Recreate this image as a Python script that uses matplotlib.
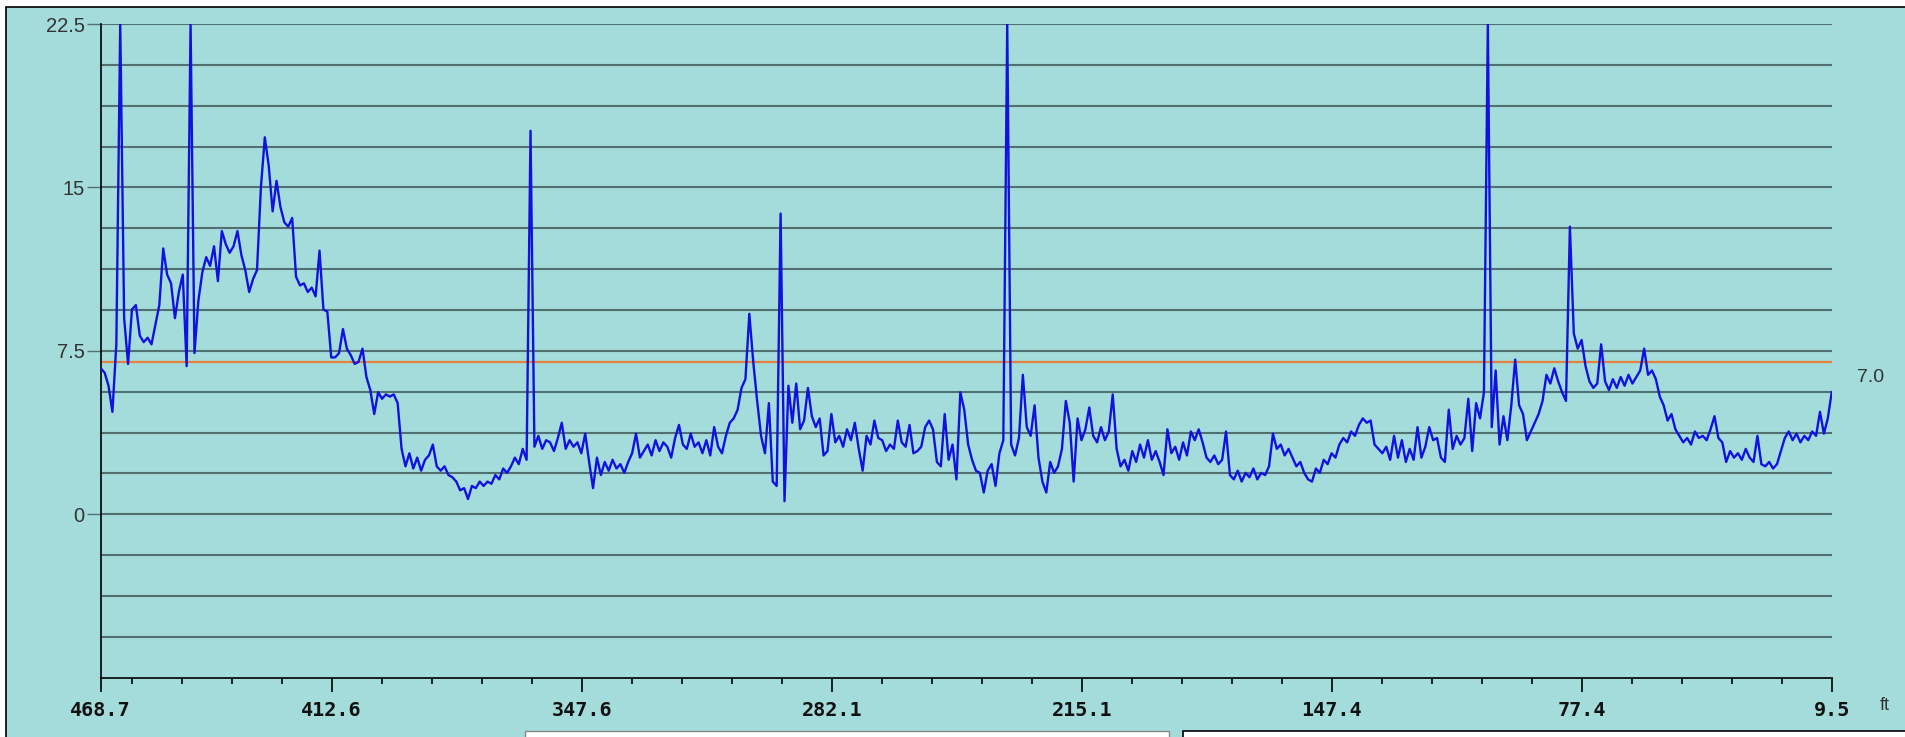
import numpy as np
import matplotlib
matplotlib.use("Agg")
import matplotlib.pyplot as plt
from matplotlib.patches import Rectangle

# ---------------- data ----------------
# distance labels along the bottom axis (ft), left to right
dist_labels = ["468.7", "412.6", "347.6", "282.1", "215.1", "147.4", "77.4", "9.5"]
value_ticks = [0, 7.5, 15, 22.5]
value_labels = ["0", "7.5", "15", "22.5"]
limit_value = 7.0
limit_label = "7.0"
unit_label = "ft"

# trace readings, evenly spaced along the run from 468.7 ft (left) to 9.5 ft (right)
signal = [
    6.7, 6.5, 5.9, 4.7, 7.8, 22.5, 9.0, 6.9, 9.4, 9.6,
    8.2, 7.9, 8.1, 7.8, 8.7, 9.6, 12.2, 11.0, 10.6, 9.0,
    10.2, 11.0, 6.8, 22.5, 7.4, 9.8, 11.1, 11.8, 11.4, 12.3,
    10.7, 13.0, 12.4, 12.0, 12.3, 13.0, 11.9, 11.2, 10.2, 10.8,
    11.2, 15.0, 17.3, 16.0, 13.9, 15.3, 14.1, 13.4, 13.2, 13.6,
    10.9, 10.5, 10.6, 10.2, 10.4, 10.0, 12.1, 9.4, 9.3, 7.2,
    7.2, 7.4, 8.5, 7.6, 7.3, 6.9, 7.0, 7.6, 6.3, 5.7,
    4.6, 5.6, 5.3, 5.5, 5.4, 5.5, 5.1, 3.0, 2.2, 2.8,
    2.1, 2.6, 2.0, 2.5, 2.7, 3.2, 2.2, 2.0, 2.2, 1.8,
    1.7, 1.5, 1.1, 1.2, 0.7, 1.3, 1.2, 1.5, 1.3, 1.5,
    1.4, 1.8, 1.6, 2.1, 1.9, 2.2, 2.6, 2.3, 3.0, 2.5,
    17.6, 3.1, 3.6, 3.0, 3.4, 3.3, 2.9, 3.5, 4.2, 3.0,
    3.4, 3.1, 3.3, 2.8, 3.7, 2.4, 1.2, 2.6, 1.8, 2.4,
    2.0, 2.5, 2.1, 2.3, 1.9, 2.4, 2.8, 3.7, 2.6, 2.9,
    3.2, 2.7, 3.4, 2.9, 3.3, 3.1, 2.6, 3.5, 4.1, 3.2,
    3.0, 3.7, 3.1, 3.3, 2.8, 3.4, 2.7, 4.0, 3.1, 2.8,
    3.6, 4.2, 4.4, 4.8, 5.8, 6.2, 9.2, 7.0, 5.2, 3.6,
    2.8, 5.1, 1.5, 1.3, 13.8, 0.6, 5.9, 4.2, 6.0, 3.9,
    4.3, 5.8, 4.5, 4.0, 4.4, 2.7, 2.9, 4.6, 3.3, 3.6,
    3.1, 3.9, 3.4, 4.2, 3.0, 2.0, 3.6, 3.2, 4.3, 3.5,
    3.4, 2.9, 3.2, 3.0, 4.3, 3.3, 3.1, 4.1, 2.8, 2.9,
    3.1, 4.0, 4.3, 3.9, 2.4, 2.2, 4.6, 2.5, 3.2, 1.6,
    5.6, 4.8, 3.2, 2.5, 2.0, 1.9, 1.0, 2.0, 2.3, 1.3,
    2.8, 3.4, 22.5, 3.2, 2.7, 3.5, 6.4, 4.0, 3.6, 5.0,
    2.6, 1.5, 1.0, 2.4, 1.9, 2.2, 3.0, 5.2, 4.2, 1.5,
    4.4, 3.4, 3.9, 4.9, 3.6, 3.3, 4.0, 3.4, 3.8, 5.5,
    3.0, 2.2, 2.5, 2.0, 2.9, 2.4, 3.2, 2.6, 3.4, 2.5,
    2.9, 2.4, 1.8, 3.9, 2.8, 3.1, 2.5, 3.3, 2.7, 3.8,
    3.4, 3.9, 3.3, 2.6, 2.4, 2.7, 2.3, 2.5, 3.8, 1.8,
    1.6, 2.0, 1.5, 1.9, 1.7, 2.1, 1.6, 1.9, 1.8, 2.2,
    3.7, 3.0, 3.2, 2.7, 3.0, 2.6, 2.2, 2.4, 1.9, 1.6,
    1.5, 2.1, 1.9, 2.5, 2.3, 2.8, 2.6, 3.2, 3.5, 3.3,
    3.8, 3.6, 4.1, 4.4, 4.2, 4.3, 3.2, 3.0, 2.8, 3.1,
    2.5, 3.6, 2.6, 3.4, 2.4, 3.0, 2.5, 4.0, 2.6, 3.1,
    4.0, 3.4, 3.5, 2.6, 2.4, 4.8, 3.0, 3.6, 3.2, 3.5,
    5.3, 2.9, 5.1, 4.4, 5.6, 22.5, 4.0, 6.6, 3.2, 4.5,
    3.4, 5.0, 7.1, 5.0, 4.6, 3.4, 3.8, 4.2, 4.6, 5.2,
    6.4, 6.0, 6.7, 6.1, 5.6, 5.2, 13.2, 8.3, 7.6, 8.0,
    6.8, 6.1, 5.8, 6.0, 7.8, 6.1, 5.7, 6.2, 5.8, 6.3,
    5.9, 6.4, 6.0, 6.3, 6.6, 7.6, 6.4, 6.6, 6.2, 5.4,
    5.0, 4.3, 4.6, 3.9, 3.6, 3.3, 3.5, 3.2, 3.8, 3.5,
    3.6, 3.4, 3.9, 4.5, 3.5, 3.3, 2.4, 2.9, 2.6, 2.8,
    2.5, 3.0, 2.6, 2.4, 3.6, 2.3, 2.2, 2.4, 2.1, 2.3,
    2.9, 3.5, 3.8, 3.4, 3.7, 3.3, 3.6, 3.4, 3.8, 3.6,
    4.7, 3.7, 4.4, 5.6,
]

# ---------------- layout ----------------
W, H = 1905, 737
BG = "#a3dcdb"
GRID = "#52706f"

# axis positions: labels sit on equal divisions, the run starts a bit before the first one
label_pos = [-0.924, 0, 1, 2, 3, 4, 5, 6]
trace_pos = np.linspace(label_pos[0], label_pos[-1], len(signal))

fig = plt.figure(figsize=(W / 100, H / 100), dpi=100, facecolor="white")

# panel background with black frame on top / left
fig.add_artist(Rectangle((5.5 / W, -0.05), 1.1, 1 - 7 / H + 0.05,
                         transform=fig.transFigure, facecolor=BG,
                         edgecolor="black", lw=1.2, zorder=0))
# bits of the widgets under the chart
fig.add_artist(Rectangle((525 / W, -0.01), (1169 - 525) / W, 6.5 / H + 0.01,
                         transform=fig.transFigure, facecolor="white",
                         edgecolor="#888888", lw=1.0, zorder=1))
fig.add_artist(Rectangle((1183 / W, -0.01), 1.0, 6.5 / H + 0.01,
                         transform=fig.transFigure, facecolor="white",
                         edgecolor="black", lw=1.2, zorder=1))

ax = fig.add_axes([100.7 / W, 59.3 / H, 1731 / W, 653.7 / H])
ax.patch.set_visible(False)
ax.set_xlim(label_pos[0], label_pos[-1])
ax.set_ylim(-7.5, 22.5)

# horizontal grid every 1.875
ax.set_yticks(value_ticks, value_labels)
ax.set_yticks(np.arange(-5.625, 22.6, 1.875), minor=True)
ax.yaxis.grid(True, which="both", color=GRID, lw=1.5)
ax.set_axisbelow(True)

ax.tick_params(axis="y", which="major", length=10, width=1.0, color=GRID,
               pad=1.5, labelsize=14.5, labelcolor="#333333")
ax.tick_params(axis="y", which="minor", length=0)
for t in ax.get_yticklabels():
    t.set_fontfamily("Liberation Sans")

ax.set_xticks(label_pos, dist_labels)
ax.set_xticks(np.arange(-0.8, 5.95, 0.2), minor=True)
ax.tick_params(axis="x", which="major", length=10, width=1.2, color="black",
               pad=7, labelsize=14.5, labelcolor="#111111")
ax.tick_params(axis="x", which="minor", length=4.5, width=1.2, color="black")
for t in ax.get_xticklabels():
    t.set_fontfamily("DejaVu Sans Mono")
    t.set_fontweight("bold")

for side in ["top", "right"]:
    ax.spines[side].set_visible(False)
for side in ["left", "bottom"]:
    ax.spines[side].set_color("black")
    ax.spines[side].set_linewidth(1.2)

# limit line and trace
ax.axhline(limit_value, color="#e3813f", lw=1.6, zorder=2)
ax.plot(trace_pos, signal, color="#1212e0", lw=1.7, zorder=3)

fig.text(1871 / W, 1 - 377 / H, limit_label, ha="center", va="center",
         fontsize=14, family="Liberation Sans", color="#333333")
fig.text(1885 / W, 1 - 705 / H, unit_label, ha="center", va="center",
         fontsize=13, family="Liberation Sans", color="#333333")

fig.savefig("out.png", dpi=100, facecolor=fig.get_facecolor())
